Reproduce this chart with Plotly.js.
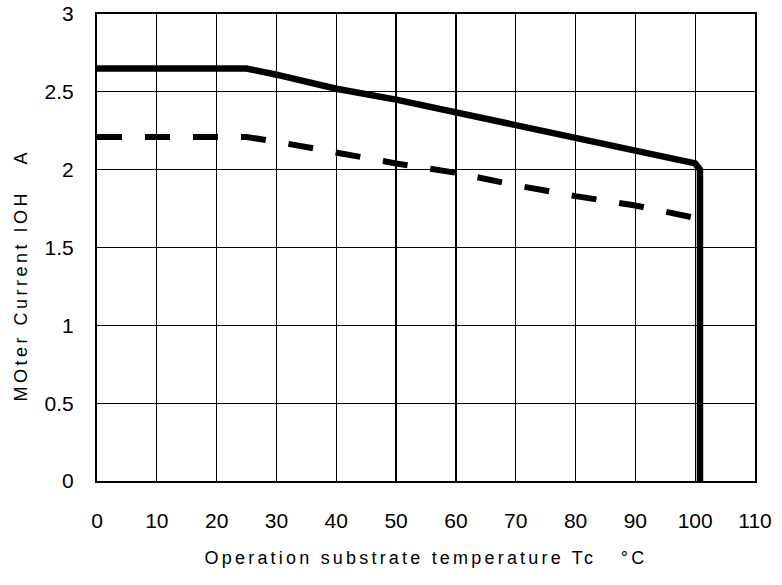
<!DOCTYPE html>
<html>
<head>
<meta charset="utf-8">
<script src="https://cdn.plot.ly/plotly-3.0.1.min.js"></script>
<style>
html,body{margin:0;padding:0;background:#fff;}
#chart{width:782px;height:585px;}
.xtitle {letter-spacing: 3.2px;}
.ytitle {letter-spacing: 3.5px;}
</style>
</head>
<body>
<div id="chart"></div>
<script>
// Solid curve (upper rating)
const solidX = [0, 25, 30, 40, 50, 60, 70, 80, 90, 100, 100.8, 100.8];
const solidY = [2.65, 2.65, 2.61, 2.52, 2.45, 2.37, 2.29, 2.2, 2.12, 2.04, 2.0, 0];
// Dashed curve (lower rating)
const dashX = [0, 25, 30, 40, 50, 60, 70, 80, 90, 100];
const dashY = [2.21, 2.21, 2.18, 2.11, 2.04, 1.98, 1.9, 1.83, 1.77, 1.69];
// Tick labels
const xTicks = [0, 10, 20, 30, 40, 50, 60, 70, 80, 90, 100, 110];
const yTicks = [0, 0.5, 1, 1.5, 2, 2.5, 3];
const yTickText = ["0", "0.5", "1", "1.5", "2", "2.5", "3"];

const font = "'Liberation Sans', Arial, sans-serif";
const nb = '\u00a0';

const traces = [
  {x: dashX, y: dashY, mode: 'lines', line: {color: '#000', width: 6, dash: '25px,23px'}, hoverinfo: 'skip'},
  {x: solidX, y: solidY, mode: 'lines', line: {color: '#000', width: 6.5}, hoverinfo: 'skip'}
];

const layout = {
  width: 782, height: 585,
  margin: {l: 97, r: 27, t: 14, b: 104},
  paper_bgcolor: '#fff', plot_bgcolor: '#fff',
  showlegend: false,
  font: {family: font, color: '#000', size: 20},
  xaxis: {
    range: [0, 110], tickvals: xTicks, ticktext: xTicks.map(String),
    showgrid: true, gridcolor: '#000', gridwidth: 1.2,
    showline: true, linecolor: '#000', linewidth: 2, mirror: true,
    zeroline: false, ticks: '', ticklabelstandoff: 20,
    tickfont: {family: font, size: 21, color: '#000'},
    title: {text: 'Operation substrate temperature Tc' + nb + nb + nb + '\u00b0C', font: {family: font, size: 18, color: '#000'}, standoff: 20}
  },
  yaxis: {
    range: [0, 3], tickvals: yTicks, ticktext: yTickText,
    showgrid: true, gridcolor: '#000', gridwidth: 1.2,
    showline: true, linecolor: '#000', linewidth: 2, mirror: true,
    zeroline: false, ticks: '', ticklabelstandoff: 17,
    tickfont: {family: font, size: 21, color: '#000'},
    title: {text: 'MOter Current IOH' + nb + nb + nb + 'A<span style="color:#ffffff">MMM</span>', font: {family: font, size: 18, color: '#000'}, standoff: 12}
  }
};

Plotly.newPlot('chart', traces, layout, {staticPlot: true, displayModeBar: false});
</script>
</body>
</html>
